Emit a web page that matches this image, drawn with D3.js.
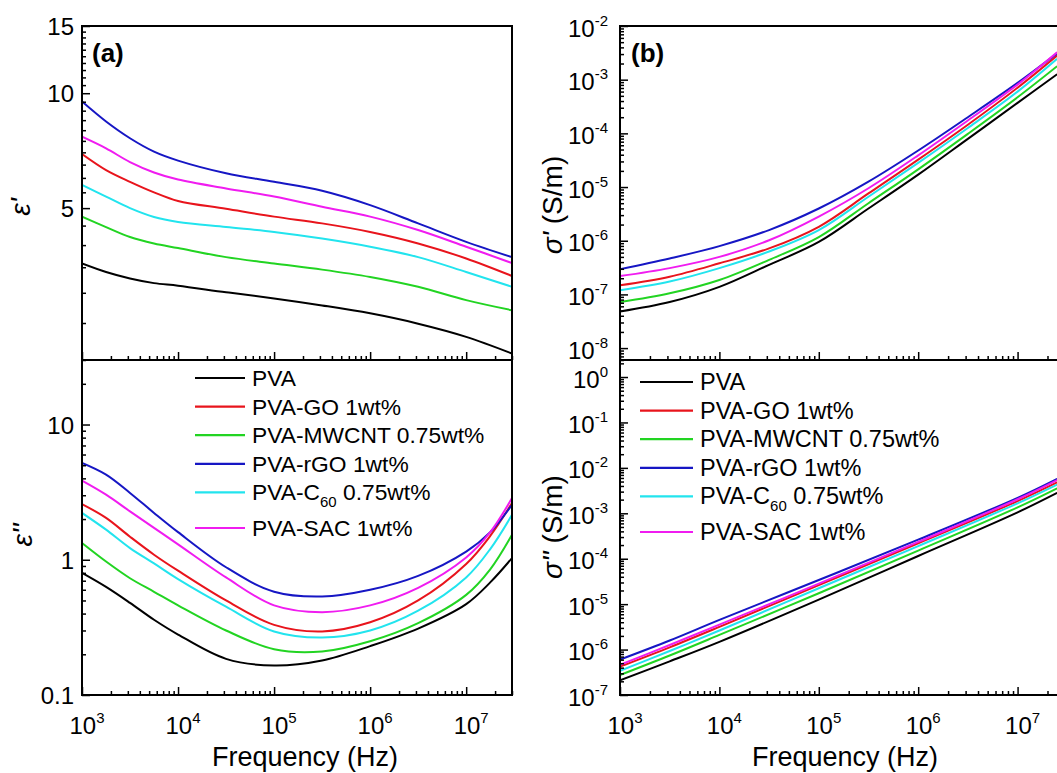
<!DOCTYPE html>
<html>
<head>
<meta charset="utf-8">
<script src="https://cdn.jsdelivr.net/npm/d3@7"></script>
<style>
body { margin: 0; background: #fff; }
svg { display: block; font-family: "Liberation Sans", Arial, sans-serif; }
</style>
</head>
<body>
<svg id="chart" width="1057" height="773"></svg>
<script>
// series, same order in every panel
var names = ["PVA", "PVA-GO 1wt%", "PVA-MWCNT 0.75wt%", "PVA-rGO 1wt%", "PVA-C60 0.75wt%", "PVA-SAC 1wt%"];
var colors = ["#000000", "#e8141c", "#22d422", "#1616c4", "#22e4ee", "#f01cf0"];

// (a) eps' read at these frequencies
var freqA = [1e3, 1.78e3, 3.16e3, 5.62e3, 1e4, 3.16e4, 1e5, 3.16e5, 1e6, 3.16e6, 1e7, 3e7];
var epsRealPVA   = [3.58, 3.40, 3.27, 3.18, 3.13, 3.01, 2.90, 2.78, 2.65, 2.49, 2.30, 2.08];
var epsRealGO    = [6.93, 6.29, 5.86, 5.50, 5.22, 4.98, 4.75, 4.56, 4.33, 4.04, 3.69, 3.32];
var epsRealMWCNT = [4.75, 4.46, 4.20, 4.04, 3.93, 3.72, 3.58, 3.45, 3.30, 3.11, 2.87, 2.70];
var epsRealRGO   = [9.51, 8.43, 7.62, 7.03, 6.66, 6.17, 5.86, 5.55, 5.09, 4.56, 4.08, 3.72];
var epsRealC60   = [5.75, 5.36, 5.00, 4.74, 4.60, 4.46, 4.33, 4.16, 3.96, 3.72, 3.40, 3.11];
var epsRealSAC   = [7.69, 7.17, 6.60, 6.20, 5.94, 5.63, 5.36, 5.04, 4.75, 4.38, 3.96, 3.59];

// eps'' (bottom left)
var freqA2 = [1e3, 1.78e3, 3.16e3, 5.62e3, 1e4, 3.16e4, 1e5, 3.16e5, 1e6, 3.16e6, 1e7, 1.78e7, 3e7];
var epsImagPVA   = [0.80, 0.63, 0.48, 0.36, 0.28, 0.185, 0.165, 0.18, 0.23, 0.31, 0.47, 0.68, 1.03];
var epsImagGO    = [2.58, 2.04, 1.48, 1.09, 0.83, 0.50, 0.33, 0.295, 0.345, 0.50, 0.93, 1.5, 2.63];
var epsImagMWCNT = [1.33, 0.97, 0.73, 0.58, 0.46, 0.30, 0.218, 0.21, 0.25, 0.34, 0.55, 0.85, 1.53];
var epsImagRGO   = [5.2, 4.26, 3.12, 2.22, 1.6, 0.88, 0.58, 0.535, 0.60, 0.76, 1.15, 1.6, 2.55];
var epsImagC60   = [2.22, 1.67, 1.22, 0.94, 0.72, 0.45, 0.295, 0.266, 0.30, 0.42, 0.74, 1.2, 2.15];
var epsImagSAC   = [3.85, 3.03, 2.28, 1.72, 1.30, 0.74, 0.46, 0.41, 0.46, 0.62, 1.04, 1.6, 2.86];

// (b) sigma' (top right)
var freqB = [1e3, 3.16e3, 1e4, 3.16e4, 1e5, 3.16e5, 1e6, 3.16e6, 1e7, 2.5e7];
var sigRealPVA   = [4.8e-8, 7.2e-8, 1.38e-7, 3.55e-7, 9.5e-7, 3.98e-6, 1.70e-5, 7.9e-5, 3.7e-4, 1.26e-3];
var sigRealGO    = [1.48e-7, 2.14e-7, 3.8e-7, 7.2e-7, 1.82e-6, 7.6e-6, 3.24e-5, 1.45e-4, 7.1e-4, 2.82e-3];
var sigRealMWCNT = [7.2e-8, 1.05e-7, 1.86e-7, 4.4e-7, 1.17e-6, 5.0e-6, 2.14e-5, 9.8e-5, 4.7e-4, 1.78e-3];
var sigRealRGO   = [2.95e-7, 4.68e-7, 7.94e-7, 1.58e-6, 3.98e-6, 1.26e-5, 4.79e-5, 2.0e-4, 8.7e-4, 3.09e-3];
var sigRealC60   = [1.2e-7, 1.74e-7, 3.09e-7, 6.3e-7, 1.58e-6, 6.6e-6, 2.82e-5, 1.26e-4, 6.0e-4, 2.45e-3];
var sigRealSAC   = [2.19e-7, 3.09e-7, 5.0e-7, 1.02e-6, 2.82e-6, 9.5e-6, 3.89e-5, 1.74e-4, 8.1e-4, 3.24e-3];

// sigma'' (bottom right)
var freqC = [1e3, 3.16e3, 1e4, 1e5, 1e6, 1e7, 2.5e7];
var sigImagPVA   = [2.1e-7, 5.5e-7, 1.48e-6, 1.26e-5, 1.15e-4, 1.05e-3, 2.82e-3];
var sigImagGO    = [4.2e-7, 1.12e-6, 3.16e-6, 2.63e-5, 2.19e-4, 1.86e-3, 4.8e-3];
var sigImagMWCNT = [2.75e-7, 7.4e-7, 2.1e-6, 1.74e-5, 1.51e-4, 1.35e-3, 3.55e-3];
var sigImagRGO   = [6.0e-7, 1.58e-6, 4.5e-6, 3.4e-5, 2.63e-4, 2.19e-3, 5.75e-3];
var sigImagC60   = [3.4e-7, 9.3e-7, 2.63e-6, 2.24e-5, 1.9e-4, 1.66e-3, 4.3e-3];
var sigImagSAC   = [4.6e-7, 1.26e-6, 3.55e-6, 2.82e-5, 2.34e-4, 2.04e-3, 5.4e-3];

// tick values
var xMajor = [1e3, 1e4, 1e5, 1e6, 1e7];
var epsRealTicks = [5, 10, 15];
var epsImagTicks = [0.1, 1, 10];
var sigRealTicks = [1e-8, 1e-7, 1e-6, 1e-5, 1e-4, 1e-3, 1e-2];
var sigImagTicks = [1e-7, 1e-6, 1e-5, 1e-4, 1e-3, 1e-2, 1e-1, 1e0];

var svg = d3.select("#chart");

// log minor ticks 2..9 per decade
function logMinors(dom) {
  var out = [];
  var lo = Math.floor(Math.log10(dom[0])), hi = Math.ceil(Math.log10(dom[1]));
  for (var e = lo; e <= hi; e++) {
    for (var m = 2; m <= 9; m++) {
      var v = m * Math.pow(10, e);
      if (v >= dom[0] * 0.999 && v <= dom[1] * 1.001) out.push(v);
    }
  }
  return out;
}

// "10" + superscript exponent
function powLabel(t, v) {
  var e = Math.round(Math.log10(v));
  t.text(null);
  t.append("tspan").text("10");
  t.append("tspan").attr("font-size", 15).attr("dy", -11).text(String(e));
}

var clipN = 0;
function panel(cfg) {
  var x = d3.scaleLog().domain(cfg.xDom).range(cfg.xRange);
  var y = d3.scaleLog().domain(cfg.yDom).range(cfg.yRange);
  var g = svg.append("g");
  var x0 = cfg.xRange[0], x1 = cfg.xRange[1], yb = cfg.yRange[0], yt = cfg.yRange[1];

  var id = "clip" + (clipN++);
  svg.append("clipPath").attr("id", id).append("rect")
    .attr("x", x0).attr("y", yt).attr("width", x1 - x0).attr("height", yb - yt);

  var line = d3.line()
    .x(function(d) { return x(d[0]); })
    .y(function(d) { return y(d[1]); })
    .curve(d3.curveCatmullRom.alpha(0.5));
  g.append("g").attr("clip-path", "url(#" + id + ")")
    .selectAll("path")
    .data(cfg.series)
    .join("path")
      .attr("fill", "none")
      .attr("stroke", function(d, i) { return colors[i]; })
      .attr("stroke-width", 2)
      .attr("d", function(s) { return line(cfg.freq.map(function(f, j) { return [f, s[j]]; })); });

  // x ticks, pointing in
  g.append("g").attr("class", "ax").attr("transform", "translate(0," + yb + ")")
    .call(d3.axisBottom(x).tickValues(logMinors(cfg.xDom)).tickSize(-4).tickFormat(""));
  g.append("g").attr("class", "ax").attr("transform", "translate(0," + yb + ")")
    .call(d3.axisBottom(x).tickValues(xMajor).tickSize(-8).tickFormat(""));

  // y ticks, pointing in
  g.append("g").attr("class", "ax").attr("transform", "translate(" + x0 + ",0)")
    .call(d3.axisLeft(y).tickValues(cfg.yMinor).tickSize(-4).tickFormat(""));
  var ya = g.append("g").attr("class", "ax").attr("transform", "translate(" + x0 + ",0)")
    .call(d3.axisLeft(y).tickValues(cfg.yTicks).tickSize(-8).tickPadding(cfg.yPow ? 12 : 8));
  ya.selectAll(".tick text").attr("font-size", 24).attr("fill", "#000").attr("font-family", null)
    .each(function(v) {
      var t = d3.select(this);
      if (cfg.yPow) { powLabel(t, v); t.attr("dy", "0.42em"); }
      else { t.text(String(v)).attr("dy", "0.36em"); }
    });

  g.selectAll(".ax .domain").remove();
  g.selectAll(".ax line").attr("stroke", "#000").attr("stroke-width", 1.5);

  g.append("rect").attr("x", x0).attr("y", yt).attr("width", x1 - x0).attr("height", yb - yt)
    .attr("fill", "none").attr("stroke", "#000").attr("stroke-width", 2);

  if (cfg.xLabels) {
    g.selectAll("text.xl").data(xMajor).join("text")
      .attr("class", "xl")
      .attr("x", function(d) { return x(d) + 5; })
      .attr("y", 734)
      .attr("text-anchor", "middle")
      .attr("font-size", 24)
      .each(function(v) { powLabel(d3.select(this), v); });
    g.append("text").attr("x", cfg.titleX).attr("y", 766)
      .attr("text-anchor", "middle").attr("font-size", 27).text("Frequency (Hz)");
  }
  return { x: x, y: y, g: g };
}

panel({
  xDom: [1e3, 3e7], xRange: [82, 512], yDom: [2, 15], yRange: [360, 26],
  freq: freqA, series: [epsRealPVA, epsRealGO, epsRealMWCNT, epsRealRGO, epsRealC60, epsRealSAC],
  yTicks: epsRealTicks, yMinor: d3.range(2.5, 15, 0.5).filter(function(v) { return v % 5 !== 0; })
});
panel({
  xDom: [1e3, 3e7], xRange: [82, 512], yDom: [0.1, 30], yRange: [695, 360],
  freq: freqA2, series: [epsImagPVA, epsImagGO, epsImagMWCNT, epsImagRGO, epsImagC60, epsImagSAC],
  yTicks: epsImagTicks, yMinor: logMinors([0.1, 30]), xLabels: true, titleX: 305
});
panel({
  xDom: [1e3, 3e7], xRange: [620, 1065], yDom: [6e-9, 1e-2], yRange: [360, 26],
  freq: freqB, series: [sigRealPVA, sigRealGO, sigRealMWCNT, sigRealRGO, sigRealC60, sigRealSAC],
  yTicks: sigRealTicks, yMinor: logMinors([6e-9, 1e-2]), yPow: true
});
panel({
  xDom: [1e3, 3e7], xRange: [620, 1065], yDom: [1e-7, 2.37], yRange: [695, 360],
  freq: freqC, series: [sigImagPVA, sigImagGO, sigImagMWCNT, sigImagRGO, sigImagC60, sigImagSAC],
  yTicks: sigImagTicks, yMinor: logMinors([1e-7, 2.37]), yPow: true, xLabels: true, titleX: 845
});

// panel tags
svg.append("text").attr("x", 92).attr("y", 62).attr("font-size", 26).attr("font-weight", "bold").text("(a)");
svg.append("text").attr("x", 631).attr("y", 62).attr("font-size", 26).attr("font-weight", "bold").text("(b)");

// y titles
function yTitle(cx, cy, sym, rest) {
  var t = svg.append("text").attr("transform", "translate(" + cx + "," + cy + ") rotate(-90)")
    .attr("text-anchor", "middle").attr("font-size", 28);
  t.append("tspan").attr("font-style", "italic").text(sym);
  if (rest) t.append("tspan").text(rest);
}
yTitle(30, 207, "\u03b5'", null);
yTitle(32, 535, "\u03b5''", null);
yTitle(562, 205, "\u03c3'", " (S/m)");
yTitle(562, 527, "\u03c3''", " (S/m)");

// legends
function legend(lx0, lx1, tx, y0, fs) {
  var rows = svg.append("g").selectAll("g").data(names).join("g")
    .attr("transform", function(d, i) { return "translate(0," + (y0 + i * 28.6 + (i === 5 ? 7 : 0)) + ")"; });
  rows.append("line").attr("x1", lx0).attr("x2", lx1)
    .attr("stroke", function(d, i) { return colors[i]; }).attr("stroke-width", 2.2);
  rows.append("text").attr("x", tx).attr("y", 8).attr("font-size", fs)
    .each(function(d) {
      var t = d3.select(this);
      if (d.indexOf("C60") >= 0) {
        t.append("tspan").text("PVA-C");
        t.append("tspan").attr("font-size", 15).attr("dy", 7).text("60");
        t.append("tspan").attr("dy", -7).text(" 0.75wt%");
      } else t.text(d);
    });
}
legend(195, 245, 252, 378, 22.8);
legend(640, 693, 700, 382, 23.5);
</script>
</body>
</html>
